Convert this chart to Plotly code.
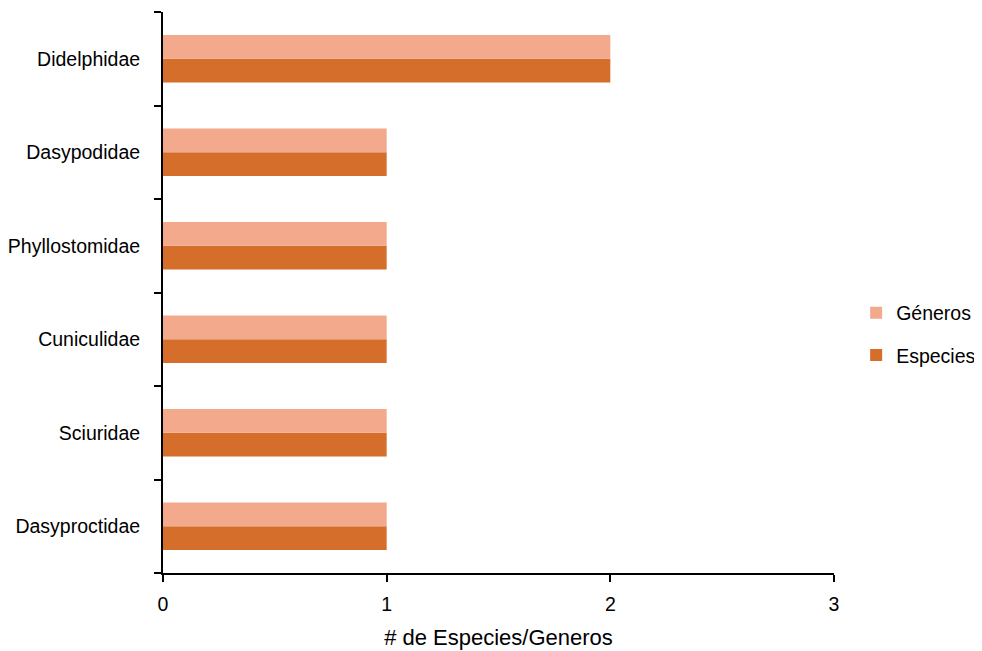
import plotly.graph_objects as go

# families, bottom to top
familias = ["Dasyproctidae", "Sciuridae", "Cuniculidae", "Phyllostomidae", "Dasypodidae", "Didelphidae"]
especies = [1, 1, 1, 1, 1, 2]
generos = [1, 1, 1, 1, 1, 2]

fig = go.Figure()
# first trace sits lower in each group for horizontal bars
fig.add_trace(go.Bar(y=familias, x=especies, name="Especies", orientation="h",
                     legendgroup="e", legendrank=2,
                     marker=dict(color="#D46E2A", line=dict(width=0))))
fig.add_trace(go.Bar(y=familias, x=generos, name="Géneros", orientation="h",
                     legendgroup="g", legendrank=1,
                     marker=dict(color="#F2A98C", line=dict(width=0))))

# page body adds ~8px margin, so the figure is a bit smaller than the window
fig.update_layout(
    width=974, height=644,
    margin=dict(l=155, r=148, t=4, b=79, autoexpand=False),
    paper_bgcolor="white", plot_bgcolor="white",
    font=dict(family="Liberation Sans, Arial, sans-serif", size=19.5, color="black"),
    barmode="group", bargap=0.49, bargroupgap=0,
    legend=dict(traceorder="grouped", tracegroupgap=14,
                x=1.033, y=0.426, xanchor="left", yanchor="middle",
                font=dict(size=19.5), itemsizing="constant"),
    showlegend=True,
)
fig.update_xaxes(range=[0, 3], tickvals=[0, 1, 2, 3], showgrid=False, zeroline=False,
                 showline=True, linecolor="black", linewidth=2, automargin=False,
                 ticks="outside", ticklen=7, tickwidth=2, tickcolor="black",
                 ticklabelstandoff=6,
                 title=dict(text="# de Especies/Generos", font=dict(size=22), standoff=15))
fig.update_yaxes(showgrid=False, showline=True, linecolor="black", linewidth=2, automargin=False,
                 ticks="outside", tickson="boundaries", ticklen=7, tickwidth=2, tickcolor="black",
                 ticklabelstandoff=17)

fig.write_html("out.html")
